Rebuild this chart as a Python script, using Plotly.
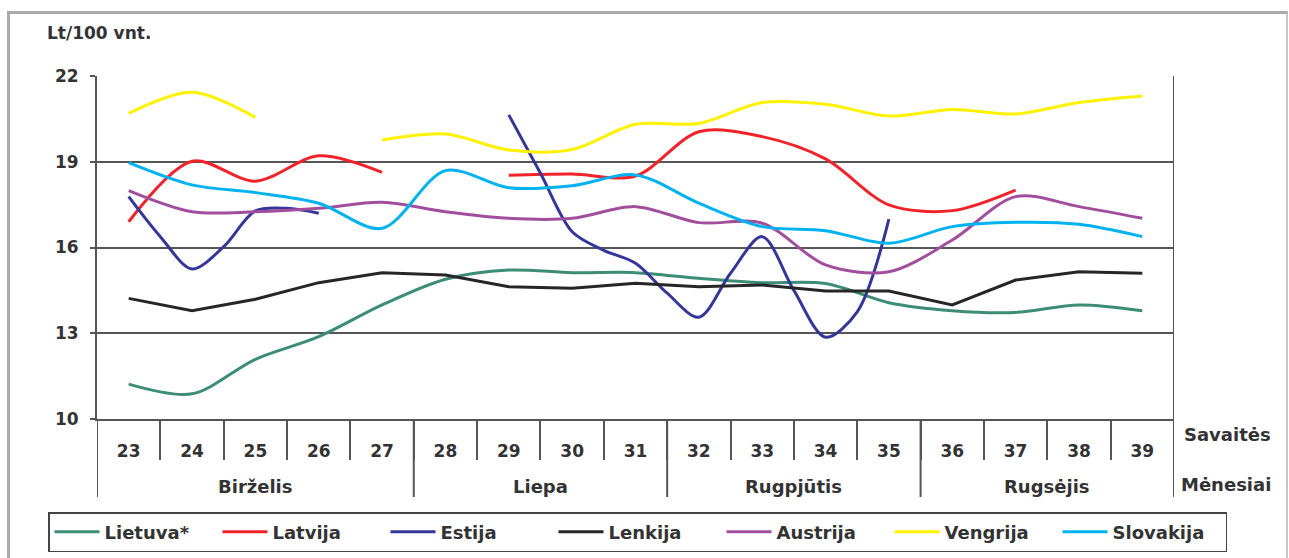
import plotly.graph_objects as go

# ---------------- data ----------------
weeks = [23, 24, 25, 26, 27, 28, 29, 30, 31, 32, 33, 34, 35, 36, 37, 38, 39]
week_labels = [str(w) for w in weeks]
months = ["Birželis", "Liepa", "Rugpjūtis", "Rugsėjis"]
month_centers = [25, 29.5, 33.5, 37.5]
month_bounds = [27.5, 31.5, 35.5]

lietuva = [11.22, 10.88, 12.09, 12.88, 13.99, 14.89, 15.21, 15.12, 15.12,
           14.92, 14.77, 14.74, 14.07, 13.79, 13.73, 13.99, 13.79]
latvija = [16.90, 19.02, 18.32, 19.21, 18.63, None, 18.53, 18.57, 18.50,
           20.05, 19.88, 19.10, 17.49, 17.29, 18.01, None, None]
estija_x = [23, 23.5, 24, 24.5, 25, 25.5, 26, 27.5,
            29, 29.5, 30, 30.5, 31, 31.5, 32, 32.5, 33, 33.5, 34, 34.5, 35]
estija = [17.78, 16.38, 15.25, 16.03, 17.28, 17.37, 17.20, None,
          20.64, 18.60, 16.55, 15.90, 15.45, 14.40, 13.56, 15.10, 16.38, 14.50, 12.86, 13.75, 16.99]
lenkija = [14.22, 13.79, 14.19, 14.77, 15.12, 15.04, 14.63, 14.57, 14.75,
           14.63, 14.69, 14.48, 14.48, 13.99, 14.86, 15.15, 15.10]
austrija = [17.99, 17.25, 17.25, 17.37, 17.58, 17.25, 17.02, 17.02, 17.43,
            16.87, 16.85, 15.39, 15.15, 16.26, 17.78, 17.43, 17.02]
vengrija = [20.69, 21.43, 20.55, None, 19.76, 19.97, 19.41, 19.43, 20.31,
            20.34, 21.07, 21.01, 20.60, 20.83, 20.67, 21.07, 21.30]
slovakija = [18.97, 18.19, 17.92, 17.55, 16.67, 18.69, 18.09, 18.16, 18.54,
             17.55, 16.73, 16.59, 16.15, 16.73, 16.88, 16.81, 16.38]

series = [
    ("Lietuva*", weeks, lietuva, "#3d8c74", "spline"),
    ("Latvija", weeks, latvija, "#f0232b", "spline"),
    ("Estija", estija_x, estija, "#34369a", "spline"),
    ("Lenkija", weeks, lenkija, "#262626", "linear"),
    ("Austrija", weeks, austrija, "#a14f9c", "spline"),
    ("Vengrija", weeks, vengrija, "#fff200", "spline"),
    ("Slovakija", weeks, slovakija, "#00b2ef", "spline"),
]

# ---------------- layout geometry (page pixels) ----------------
W, H = 1289, 558
PL, PR, PT, PB = 97, 1174, 76, 419  # plot area in page pixels


def px(x):
    return (x - PL) / (PR - PL)


def py(y):
    return (PB - y) / (PB - PT)


FONT = "DejaVu Sans"
TXT = "#333333"
GRID = "#555555"

fig = go.Figure()
for name, xs, ys, col, shape in series:
    fig.add_trace(go.Scatter(
        x=xs, y=ys, name=name, mode="lines",
        line=dict(color=col, width=3, shape=shape, smoothing=0.9),
        connectgaps=False,
    ))

shapes = []
# outer frame
shapes.append(dict(type="line", xref="paper", yref="paper", x0=px(7), x1=px(1288),
                   y0=py(12.5), y1=py(12.5), line=dict(color="#aaaaaa", width=3)))
shapes.append(dict(type="line", xref="paper", yref="paper", x0=px(8.5), x1=px(8.5),
                   y0=py(11), y1=py(570), line=dict(color="#aaaaaa", width=3)))
shapes.append(dict(type="line", xref="paper", yref="paper", x0=px(1287), x1=px(1287),
                   y0=py(11), y1=py(570), line=dict(color="#b5b5b5", width=1.5)))
# left edge extension, right edge and month dividers
for xv in [weeks[0] - 0.5] + month_bounds + [weeks[-1] + 0.5]:
    y_top = 1 if xv == weeks[-1] + 0.5 else 0
    shapes.append(dict(type="line", xref="x", yref="paper", x0=xv, x1=xv,
                       y0=y_top, y1=py(497), line=dict(color=GRID, width=2)))

annotations = [
    dict(text="Lt/100 vnt.", xref="paper", yref="paper", x=px(45), y=py(33),
         xanchor="left", yanchor="middle", showarrow=False,
         font=dict(family=FONT, size=17, color=TXT, weight="bold")),
    dict(text="Savaitės", xref="paper", yref="paper", x=px(1227), y=py(434),
         xanchor="center", yanchor="middle", showarrow=False,
         font=dict(family=FONT, size=18, color=TXT, weight="bold")),
    dict(text="Mėnesiai", xref="paper", yref="paper", x=px(1226), y=py(484),
         xanchor="center", yanchor="middle", showarrow=False,
         font=dict(family=FONT, size=18, color=TXT, weight="bold")),
]
for m, c in zip(months, month_centers):
    annotations.append(dict(text=m, xref="x", yref="paper", x=c, y=py(486),
                            xanchor="center", yanchor="middle", showarrow=False,
                            font=dict(family=FONT, size=18, color=TXT, weight="bold")))

fig.update_layout(
    width=W, height=H,
    margin=dict(l=PL, r=W - PR, t=PT, b=H - PB, pad=0, autoexpand=False),
    paper_bgcolor="white", plot_bgcolor="white",
    showlegend=True,
    legend=dict(orientation="h", x=px(48), y=py(512), xanchor="left", yanchor="top",
                bordercolor="#444444", borderwidth=1.5, bgcolor="white",
                font=dict(family=FONT, size=18, color=TXT, weight="bold"),
                itemwidth=45, entrywidth=108, entrywidthmode="pixels", tracegroupgap=0),
    shapes=shapes,
    annotations=annotations,
    xaxis=dict(
        range=[weeks[0] - 0.5, weeks[-1] + 0.5], showgrid=False, zeroline=False,
        tickmode="array", tickvals=weeks, ticktext=week_labels, ticks="",
        ticklabelstandoff=16,
        tickfont=dict(family=FONT, size=17, color=TXT, weight="bold"),
        showline=True, linecolor=GRID, linewidth=2,
        minor=dict(tickmode="array", tickvals=[w + 0.5 for w in weeks[:-1]],
                   ticks="outside", ticklen=39, tickwidth=2, tickcolor=GRID, showgrid=False),
        fixedrange=True,
    ),
    yaxis=dict(
        range=[10, 22], tickmode="array", tickvals=[10, 13, 16, 19, 22],
        ticks="outside", ticklen=5, tickwidth=2, tickcolor=GRID,
        showgrid=True, gridcolor=GRID, gridwidth=2, zeroline=False,
        showline=True, linecolor=GRID, linewidth=2,
        ticklabelstandoff=8,
        tickfont=dict(family=FONT, size=17, color=TXT, weight="bold"),
        fixedrange=True,
    ),
)

fig.write_html(
    "out.html",
    config={"displayModeBar": False},
    post_script="document.body.style.margin='0';document.body.style.overflow='hidden';",
)
